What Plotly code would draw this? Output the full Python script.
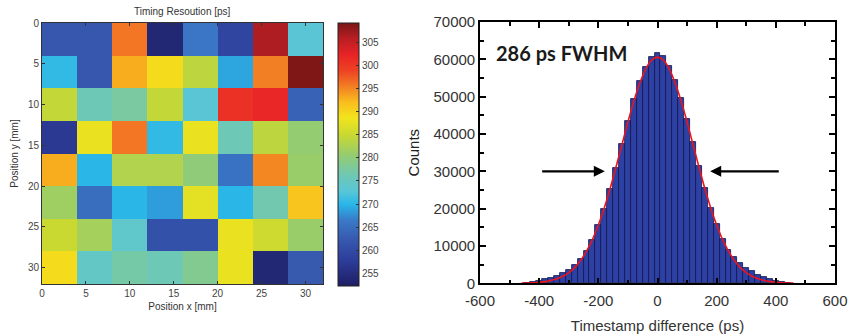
import plotly.graph_objects as go

# ---------------- data: heatmap ----------------
x_centers_mm = [2, 6, 10, 14, 18, 22, 26, 30]
y_centers_mm = [2, 6, 10, 14, 18, 22, 26, 30]
timing_ps = [
    [262.0, 262.0, 296.0, 254.0, 266.0, 259.0, 306.5, 273.0],
    [270.5, 262.0, 293.0, 289.5, 284.0, 269.0, 295.5, 309.0],
    [284.5, 276.0, 277.5, 284.5, 273.0, 301.0, 302.0, 263.5],
    [257.0, 288.0, 296.0, 270.5, 288.0, 276.0, 284.0, 280.5],
    [293.0, 270.0, 283.0, 283.0, 280.0, 265.5, 295.0, 281.0],
    [281.5, 265.0, 270.0, 268.5, 287.5, 270.0, 276.5, 291.5],
    [285.0, 282.0, 274.0, 261.0, 261.0, 288.0, 285.5, 281.0],
    [289.5, 274.5, 277.0, 276.0, 278.5, 288.0, 254.0, 262.5],
]
heat_ticks = [0, 5, 10, 15, 20, 25, 30]
cbar_ticks = [255, 260, 265, 270, 275, 280, 285, 290, 295, 300, 305]

# ---------------- data: histogram ----------------
bin_centers_ps = [-440, -420, -400, -380, -360, -340, -320, -300, -280, -260,
                  -240, -220, -200, -180, -160, -140, -120, -100, -80, -60,
                  -40, -20, 0, 20, 40, 60, 80, 100, 120, 140,
                  160, 180, 200, 220, 240, 260, 280, 300, 320, 340,
                  360, 380, 400, 420, 440]
bin_counts = [200, 450, 750, 1100, 1500, 2000, 2700, 3500, 4800, 6500,
              8600, 11700, 15600, 20000, 25300, 31000, 37300, 43500, 49300, 54200,
              58000, 60600, 61600, 60800, 58300, 54500, 49700, 44000, 37900, 31500,
              25600, 20300, 15800, 12000, 9000, 7000, 5500, 4200, 3200, 2300,
              1600, 1050, 650, 400, 200]
fit_x_ps = [-460, -440, -420, -400, -380, -360, -340, -320, -300, -280, -260,
            -240, -220, -200, -180, -160, -140, -120, -100, -80, -60, -40, -20,
            0, 20, 40, 60, 80, 100, 120, 140, 160, 180, 200, 220, 240,
            260, 280, 300, 320, 340, 360, 380, 400, 420, 440, 460]
fit_counts = [40, 80, 150, 270, 450, 750, 1200, 1880, 2860, 4200, 6100,
              8600, 11700, 15600, 20200, 25400, 31200, 37200, 43200, 48800, 53600, 57400, 59800,
              60600, 59800, 57400, 53600, 48800, 43200, 37200, 31200, 25400, 20200, 15600, 11700, 8600,
              6100, 4200, 2860, 1880, 1200, 750, 450, 270, 150, 80, 40]
hist_xticks = [-600, -400, -200, 0, 200, 400, 600]
hist_yticks = [0, 10000, 20000, 30000, 40000, 50000, 60000, 70000]

# ---------------- styling ----------------
W, H = 849, 336
def px_x(p):
    return p / W
def px_y(p):
    return 1 - p / H

jet_like = [
    [0.00, "rgb(30,30,100)"],
    [0.10, "rgb(45,62,155)"],
    [0.18, "rgb(55,90,175)"],
    [0.25, "rgb(58,122,200)"],
    [0.31, "rgb(40,182,232)"],
    [0.36, "rgb(88,198,215)"],
    [0.42, "rgb(110,200,180)"],
    [0.50, "rgb(150,204,110)"],
    [0.57, "rgb(198,216,52)"],
    [0.64, "rgb(242,228,28)"],
    [0.70, "rgb(250,188,30)"],
    [0.76, "rgb(242,125,35)"],
    [0.82, "rgb(238,65,35)"],
    [0.88, "rgb(232,35,38)"],
    [0.94, "rgb(185,30,35)"],
    [1.00, "rgb(122,22,22)"],
]

fig = go.Figure()

fig.add_trace(go.Heatmap(
    z=timing_ps, x=x_centers_mm, y=y_centers_mm,
    colorscale=jet_like, zmin=252.2, zmax=309.3,
    xaxis="x", yaxis="y",
    colorbar=dict(
        x=px_x(338), xanchor="left", xpad=0,
        y=px_y((23 + 286) / 2), yanchor="middle", ypad=0,
        len=(286 - 23) / H, lenmode="fraction",
        thickness=21, thicknessmode="pixels",
        outlinecolor="#222", outlinewidth=1,
        tickvals=cbar_ticks, ticks="inside", ticklen=3, tickcolor="#333",
        tickfont=dict(family="Liberation Sans", size=10, color="#444"),
    ),
))

fig.add_trace(go.Bar(
    x=bin_centers_ps, y=bin_counts, width=20,
    marker=dict(color="rgb(45,65,165)", line=dict(color="rgb(18,20,75)", width=0.8)),
    xaxis="x2", yaxis="y2", showlegend=False,
))

fig.add_trace(go.Scatter(
    x=fit_x_ps, y=fit_counts, mode="lines",
    line=dict(color="rgb(235,20,30)", width=1.6, shape="spline"),
    xaxis="x2", yaxis="y2", showlegend=False,
))

heat_font = dict(family="Liberation Sans", size=10, color="#444")
hist_font = dict(family="Liberation Sans", size=15, color="#333")

fig.update_layout(
    width=W, height=H,
    margin=dict(l=0, r=0, t=0, b=0, autoexpand=False),
    paper_bgcolor="white", plot_bgcolor="white",
    showlegend=False,
    bargap=0,
    xaxis=dict(
        domain=[px_x(42), px_x(323)], range=[0, 32], tickvals=heat_ticks,
        ticks="inside", ticklen=3, tickcolor="#333", mirror="allticks",
        showline=True, linecolor="#333", linewidth=1, showgrid=False, zeroline=False,
        tickfont=heat_font, anchor="y", automargin=False,
        title=dict(text="Position x [mm]", font=dict(family="Liberation Sans", size=10, color="#333"), standoff=4),
    ),
    yaxis=dict(
        domain=[px_y(284), px_y(23)], range=[32, 0], tickvals=heat_ticks,
        ticks="inside", ticklen=3, tickcolor="#333", mirror="allticks",
        showline=True, linecolor="#333", linewidth=1, showgrid=False, zeroline=False,
        tickfont=heat_font, anchor="x", automargin=False,
        title=dict(text="Position y [mm]", font=dict(family="Liberation Sans", size=10, color="#333"), standoff=7),
    ),
    xaxis2=dict(
        domain=[px_x(480), px_x(835)], range=[-600, 600],
        tickvals=hist_xticks, ticktext=[str(v) for v in hist_xticks],
        ticks="inside", ticklen=6, tickwidth=1.5, tickcolor="black", mirror="allticks",
        minor=dict(ticks="inside", dtick=100, tick0=0, ticklen=4, tickwidth=1.5, tickcolor="black"),
        showline=True, linecolor="black", linewidth=1.6, showgrid=False, zeroline=False,
        tickfont=hist_font, anchor="y2", automargin=False, ticklabelstandoff=3,
        title=dict(text="Timestamp difference (ps)", font=dict(family="Liberation Sans", size=15, color="#333"), standoff=12),
    ),
    yaxis2=dict(
        domain=[px_y(283.3), px_y(22)], range=[0, 70000],
        tickvals=hist_yticks, ticktext=[str(v) for v in hist_yticks],
        ticks="inside", ticklen=6, tickwidth=1.5, tickcolor="black", mirror="allticks",
        minor=dict(ticks="inside", dtick=5000, tick0=0, ticklen=4, tickwidth=1.5, tickcolor="black"),
        showline=True, linecolor="black", linewidth=1.6, showgrid=False, zeroline=False,
        tickfont=hist_font, anchor="x2", automargin=False,
        title=dict(text="Counts", font=dict(family="Liberation Sans", size=15, color="#222"), standoff=10),
    ),
    annotations=[
        dict(text="Timing Resoution [ps]", xref="paper", yref="paper",
             x=px_x(182), y=px_y(12), xanchor="center", yanchor="middle", showarrow=False,
             font=dict(family="Liberation Sans", size=10, color="#333")),
        dict(text="<b>286 ps FWHM</b>", xref="paper", yref="paper",
             x=px_x(494), y=px_y(53), xanchor="left", yanchor="middle", showarrow=False,
             font=dict(family="Lato", size=20, color="#1a1a1a")),
        dict(x=-178, y=30000, xref="x2", yref="y2", ax=-395, ay=30000, axref="x2", ayref="y2",
             showarrow=True, arrowhead=2, arrowsize=1, arrowwidth=2.2, arrowcolor="black", text=""),
        dict(x=178, y=30000, xref="x2", yref="y2", ax=415, ay=30000, axref="x2", ayref="y2",
             showarrow=True, arrowhead=2, arrowsize=1, arrowwidth=2.2, arrowcolor="black", text=""),
    ],
)

fig.write_html("out.html")
